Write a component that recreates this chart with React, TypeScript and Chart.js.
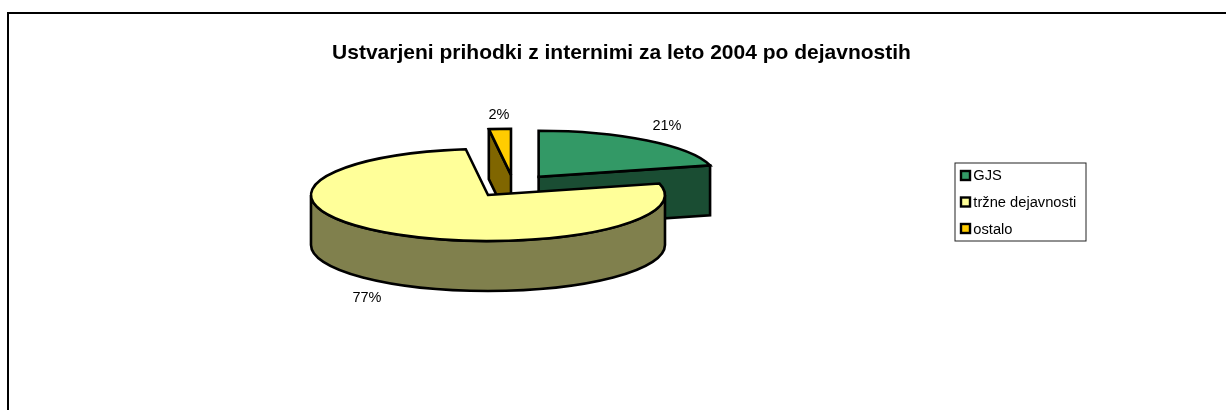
import React, { useEffect, useRef } from "react";
import { Chart, registerables } from "chart.js";

Chart.register(...registerables);

const categories = ["GJS", "tržne dejavnosti", "ostalo"];
const values = [21, 77, 2];
const topColors = ["#339966", "#FFFF99", "#FFCC00"];
const sideColors = ["#1A4D33", "#80804D", "#806600"];
const chartTitle = "Ustvarjeni prihodki z internimi za leto 2004 po dejavnostih";

const FONT = "'Liberation Sans', Arial, sans-serif";
const CENTER = { x: 513.5, y: 185.2 };
const EXPLODE = [41, 45.4, 40];
const SQUASH = 0.26;
const DEPTH = 50;
// paint order, back to front
const drawOrder = [2, 0, 1];
const labelSpots = [
  { x: 667, y: 125 },
  { x: 367, y: 297 },
  { x: 499, y: 114 },
];

const pie3d = {
  id: "pie3d",
  afterLayout(chart: any) {
    const t = chart.titleBlock;
    t.left += 8.5;
    t.right += 8.5;
    const l = chart.legend;
    const w = l.right - l.left;
    const h = l.bottom - l.top;
    l.left = 948;
    l.right = 948 + w;
    l.top = 157;
    l.bottom = 157 + h;
  },
  beforeDraw(chart: any) {
    const c = chart.ctx;
    c.save();
    c.fillStyle = "#fff";
    c.fillRect(0, 0, chart.width, chart.height);
    c.strokeStyle = "#000";
    c.lineWidth = 2;
    c.beginPath();
    c.moveTo(8, chart.height);
    c.lineTo(8, 13);
    c.lineTo(chart.width, 13);
    c.stroke();
    // legend frame
    c.lineWidth = 1;
    c.strokeStyle = "#222";
    c.strokeRect(955, 163, 131, 78);
    c.restore();
  },
  beforeDatasetsDraw(chart: any) {
    const c = chart.ctx;
    const arcs = chart.getDatasetMeta(0).data;
    c.save();
    c.lineJoin = "miter";
    c.miterLimit = 3;
    c.lineWidth = 2.6;
    c.strokeStyle = "#000";
    for (const i of drawOrder) {
      const arc = arcs[i];
      const a0 = arc.startAngle;
      const a1 = arc.endAngle;
      const rx = arc.outerRadius;
      const ry = rx * SQUASH;
      const mid = (a0 + a1) / 2;
      const cx = CENTER.x + Math.cos(mid) * EXPLODE[i];
      const cy = CENTER.y + Math.sin(mid) * EXPLODE[i] * SQUASH;
      const px = (a: number) => cx + Math.cos(a) * rx;
      const py = (a: number) => cy + Math.sin(a) * ry;
      c.fillStyle = sideColors[i];
      // radial walls facing the viewer
      const wall = (a: number) => {
        c.beginPath();
        c.moveTo(cx, cy);
        c.lineTo(px(a), py(a));
        c.lineTo(px(a), py(a) + DEPTH);
        c.lineTo(cx, cy + DEPTH);
        c.closePath();
        c.fill();
        c.stroke();
      };
      if (-Math.cos(a0) > 1e-3) wall(a0);
      if (Math.cos(a1) > 1e-3) wall(a1);
      // outer rim, only the front half
      const from = Math.max(a0, 0);
      const to = Math.min(a1, Math.PI);
      if (to > from) {
        c.beginPath();
        c.ellipse(cx, cy, rx, ry, 0, from, to);
        c.ellipse(cx, cy + DEPTH, rx, ry, 0, to, from, true);
        c.closePath();
        c.fill();
        c.stroke();
      }
      // top face
      c.fillStyle = arc.options.backgroundColor;
      c.beginPath();
      c.moveTo(cx, cy);
      c.ellipse(cx, cy, rx, ry, 0, a0, a1);
      c.closePath();
      c.fill();
      c.stroke();
    }
    c.restore();
    return false;
  },
  afterDraw(chart: any) {
    const c = chart.ctx;
    const total = values.reduce((s, v) => s + v, 0);
    c.save();
    c.font = `14.5px ${FONT}`;
    c.fillStyle = "#000";
    c.textAlign = "center";
    c.textBaseline = "middle";
    values.forEach((v, i) => {
      c.fillText(`${Math.round((v / total) * 100)}%`, labelSpots[i].x, labelSpots[i].y + 1);
    });
    // legend swatches
    const l = chart.legend;
    c.lineWidth = 2.4;
    c.strokeStyle = "#000";
    categories.forEach((_, i) => {
      c.fillStyle = topColors[i];
      const y = l.top + 14 + i * 26.5;
      c.fillRect(l.left + 13, y, 9, 9);
      c.strokeRect(l.left + 13, y, 9, 9);
    });
    c.restore();
  },
};

export default function App() {
  const ref = useRef<HTMLCanvasElement>(null);
  useEffect(() => {
    document.body.style.margin = "0";
    const chart = new Chart(ref.current!, {
      type: "pie",
      data: {
        labels: categories,
        datasets: [
          {
            data: values,
            backgroundColor: topColors,
            borderColor: "#000",
            borderWidth: 2,
          },
        ],
      },
      options: {
        responsive: false,
        animation: false,
        radius: 177,
        rotation: 0,
        plugins: {
          tooltip: { enabled: false },
          title: {
            display: true,
            text: chartTitle,
            color: "#000",
            padding: { top: 40.5, bottom: 0 },
            font: { family: FONT, size: 21, weight: "bold" },
          },
          legend: {
            position: "right",
            align: "start",
            labels: {
              boxWidth: 6,
              boxHeight: 6,
              padding: 12,
              color: "#000",
              font: { family: FONT, size: 14.7 },
              generateLabels: () =>
                categories.map((text, i) => ({
                  text,
                  fillStyle: "rgba(0,0,0,0)",
                  strokeStyle: "rgba(0,0,0,0)",
                  lineWidth: 0,
                  index: i,
                })),
            },
          },
        },
      } as any,
      plugins: [pie3d as any],
    });
    return () => chart.destroy();
  }, []);
  return <canvas ref={ref} width={1226} height={410} style={{ display: "block" }} />;
}
